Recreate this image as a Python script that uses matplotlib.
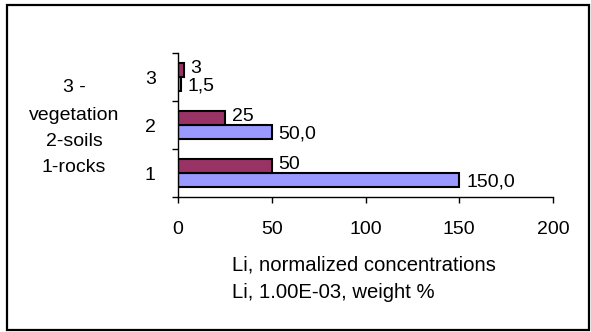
import matplotlib
matplotlib.use("Agg")
import matplotlib.pyplot as plt
from matplotlib.patches import Rectangle

# Li content by medium: 1 - rocks, 2 - soils, 3 - vegetation
categories = [1, 2, 3]
category_labels = ["1", "2", "3"]
weight_pct = [150.0, 50.0, 1.5]          # Li, 1.00E-03, weight %
normalized = [50, 25, 3]                 # Li, normalized concentrations
weight_pct_labels = ["150,0", "50,0", "1,5"]
normalized_labels = ["50", "25", "3"]
x_ticks = [0, 50, 100, 150, 200]

plt.rcParams["font.family"] = ["Liberation Sans", "DejaVu Sans"]
FS = 14

W, H = 591, 332
fig = plt.figure(figsize=(W / 100, H / 100), dpi=100)
fig.patch.set_facecolor("white")

# plot area in pixel coordinates
left, right, top, bottom = 178, 553, 53, 197
ax = fig.add_axes([left / W, (H - bottom) / H, (right - left) / W, (bottom - top) / H])

bar_h = 0.29
blue = "#9999FF"
plum = "#993366"
y_blue = [c - bar_h / 2 for c in categories]
y_plum = [c + bar_h / 2 for c in categories]
ax.barh(y_blue, weight_pct, height=bar_h, color=blue, edgecolor="black", linewidth=1.5)
ax.barh(y_plum, normalized, height=bar_h, color=plum, edgecolor="black", linewidth=1.5)

for y, v, s in zip(y_blue, weight_pct, weight_pct_labels):
    ax.annotate(s, (v, y), xytext=(5, -1.5), textcoords="offset points",
                ha="left", va="center", fontsize=FS)
for y, v, s in zip(y_plum, normalized, normalized_labels):
    ax.annotate(s, (v, y), xytext=(5, 1), textcoords="offset points",
                ha="left", va="center", fontsize=FS)

ax.set_xlim(0, 200)
ax.set_ylim(0.5, 3.5)
ax.set_xticks(x_ticks)
ax.set_xticklabels([str(t) for t in x_ticks], fontsize=FS)
ax.tick_params(axis="x", direction="out", length=4, width=1, pad=13)

# boundaries carry the tick marks, category centres carry the labels
ax.set_yticks([0.5, 1.5, 2.5, 3.5])
ax.set_yticklabels([])
ax.set_yticks(categories, minor=True)
ax.set_yticklabels(category_labels, minor=True, fontsize=FS)
for lbl in ax.get_yticklabels(minor=True):
    lbl.set_verticalalignment("center_baseline")
ax.tick_params(axis="y", which="major", direction="out", length=4, width=1)
ax.tick_params(axis="y", which="minor", length=0, pad=16)

for side in ("top", "right"):
    ax.spines[side].set_visible(False)
for side in ("left", "bottom"):
    ax.spines[side].set_linewidth(1)
    ax.spines[side].set_color("black")

# description of the categories
for txt, yp in zip(["3 -", "vegetation", "2-soils", "1-rocks"], [87, 115, 142, 168]):
    fig.text(74 / W, (H - yp) / H, txt, ha="center", va="center", fontsize=FS)

# axis title, two lines
fig.text(232 / W, (H - 265) / H, "Li, normalized concentrations", ha="left", va="center", fontsize=14.6)
fig.text(232 / W, (H - 293) / H, "Li, 1.00E-03, weight %", ha="left", va="center", fontsize=14.6)

# chart frame
fig.patches.append(Rectangle((7 / W, 2 / H), (589 - 7) / W, (327 - 2) / H,
                             transform=fig.transFigure, fill=False,
                             edgecolor="black", linewidth=1.6))

fig.savefig("out.png", dpi=100, facecolor="white")
